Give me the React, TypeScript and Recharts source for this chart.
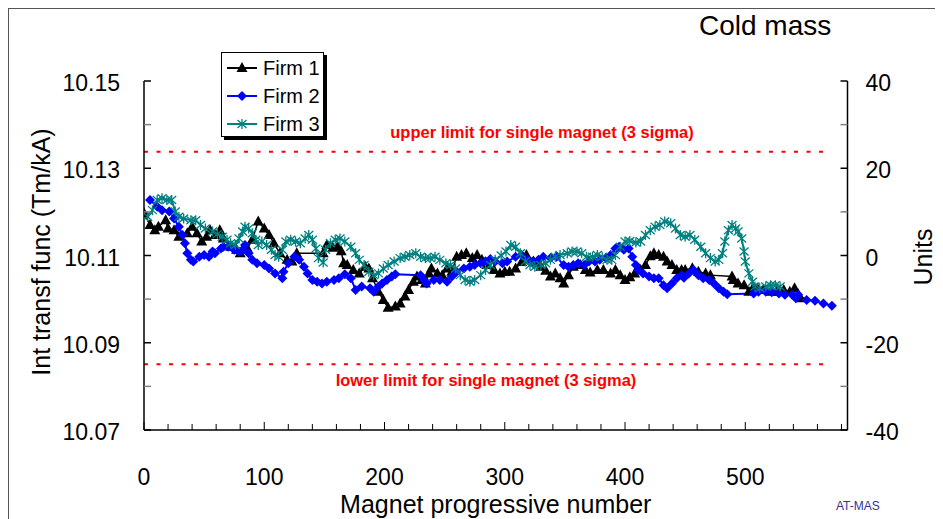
import React from 'react';
import { LineChart, Line, XAxis, YAxis, ReferenceLine, Legend, Label } from 'recharts';

// magnet progressive number and deviation in units (1 unit = 0.001 Tm/kA around 10.11)
const firm1Magnet = [0, 5, 9, 12, 18, 20, 25, 29, 36, 40, 44, 48, 52, 55, 59, 63, 66, 72, 77, 80, 86, 90, 95, 100, 104, 108, 113, 119, 123, 127, 149, 152, 157, 161, 164, 166, 169, 174, 179, 184, 187, 190, 195, 199, 203, 209, 213, 217, 220, 224, 227, 231, 234, 237, 239, 244, 248, 252, 256, 260, 264, 268, 273, 277, 281, 285, 291, 296, 300, 304, 309, 314, 318, 324, 330, 334, 338, 342, 346, 349, 353, 357, 363, 367, 371, 377, 382, 388, 392, 396, 400, 404, 408, 413, 417, 421, 424, 428, 432, 435, 439, 443, 447, 450, 456, 461, 467, 471, 489, 490, 494, 499, 503, 506, 510, 515, 521, 526, 532, 537, 541, 544, 546];
const firm1Units = [9.7, 7.0, 5.8, 6.6, 8.1, 6.2, 5.8, 4.3, 5.1, 6.6, 5.1, 3.2, 4.3, 5.8, 4.7, 5.8, 3.9, 2.0, 1.3, 0.5, 1.6, 3.6, 7.8, 6.2, 4.7, 2.8, 0.5, -1.0, -1.4, 0.5, 0.5, 2.4, 1.8, 2.0, 1.0, -1.8, -2.2, -3.3, -4.1, -2.6, -3.0, -5.2, -8.3, -10.2, -12.0, -11.7, -11.0, -9.4, -7.9, -6.0, -4.8, -5.6, -6.4, -4.1, -3.0, -4.1, -4.5, -3.0, -3.7, -0.3, 0.1, 0.5, -0.6, 0.1, -1.0, -2.2, -3.3, -4.1, -3.7, -3.7, -3.0, -1.5, 0.1, -1.4, -2.6, -3.5, -4.8, -4.1, -5.2, -6.4, -4.5, -2.6, -2.2, -3.3, -3.9, -3.3, -3.3, -4.1, -3.3, -4.5, -5.6, -5.0, -4.1, -3.3, -2.2, -0.2, 0.5, 0.1, -0.3, -1.4, -2.2, -3.3, -3.3, -3.3, -2.9, -3.7, -4.1, -4.5, -4.8, -5.6, -6.4, -6.8, -8.3, -7.6, -7.5, -7.9, -8.3, -8.3, -7.9, -8.3, -7.5, -8.9, -9.8];

const firm2Magnet = [5, 11, 15, 21, 25, 29, 32, 34, 36, 39, 41, 46, 50, 54, 57, 59, 64, 66, 70, 75, 79, 82, 84, 87, 90, 94, 100, 104, 109, 115, 116, 120, 125, 129, 133, 136, 140, 144, 148, 152, 158, 162, 167, 172, 176, 181, 188, 191, 195, 198, 202, 206, 209, 230, 233, 235, 241, 246, 252, 256, 260, 266, 271, 275, 280, 284, 288, 292, 298, 302, 309, 314, 319, 323, 328, 332, 338, 343, 349, 353, 357, 361, 366, 370, 375, 379, 384, 388, 392, 395, 399, 403, 406, 409, 411, 415, 420, 424, 428, 432, 435, 439, 443, 447, 449, 453, 457, 461, 465, 470, 474, 478, 482, 485, 507, 511, 517, 522, 528, 533, 539, 542, 544, 551, 558, 565, 572];
const firm2Units = [12.7, 11.2, 10.4, 10.1, 8.5, 6.6, 4.7, 2.8, 0.5, -1.0, -1.4, -0.3, 0.1, -0.3, 0.9, 0.5, 1.6, 2.0, 2.0, 1.3, 0.9, 1.3, 2.4, 0.5, -1.0, -1.8, -2.2, -3.0, -4.1, -5.2, -3.7, -1.8, -0.3, -1.0, -2.6, -4.1, -5.6, -6.0, -6.4, -6.0, -5.6, -5.2, -4.3, -5.2, -7.9, -7.1, -7.5, -8.3, -7.1, -6.4, -5.6, -4.8, -4.3, -4.5, -5.6, -6.4, -5.6, -5.6, -6.0, -4.8, -3.7, -3.0, -2.6, -2.2, -1.8, -1.3, -0.8, -1.4, -1.8, -1.4, -0.3, 0.1, -1.0, -1.4, -1.0, -0.3, -0.6, -0.3, -2.2, -2.6, -2.2, -1.8, -2.2, -1.4, -1.4, -1.0, -0.6, 0.1, 1.6, 2.0, 1.3, 1.6, -0.3, -2.2, -3.3, -4.1, -4.8, -5.2, -5.2, -6.8, -7.5, -6.4, -5.2, -4.5, -5.1, -4.1, -3.3, -4.5, -5.2, -5.6, -6.4, -7.5, -8.3, -8.9, -8.7, -8.3, -8.3, -8.4, -8.7, -9.0, -9.0, -9.8, -9.0, -10.2, -10.4, -11.0, -11.5];

const firm3Magnet = [3, 7, 11, 15, 19, 23, 26, 29, 33, 39, 43, 47, 51, 57, 61, 65, 69, 72, 76, 79, 82, 84, 87, 90, 93, 95, 98, 102, 106, 109, 112, 115, 118, 122, 126, 130, 134, 137, 140, 143, 145, 149, 151, 155, 159, 163, 167, 172, 176, 179, 183, 187, 191, 195, 199, 203, 208, 213, 217, 221, 226, 230, 234, 238, 242, 246, 251, 255, 259, 263, 267, 271, 275, 280, 284, 288, 292, 297, 301, 305, 309, 313, 317, 321, 325, 330, 334, 338, 342, 346, 352, 356, 360, 364, 368, 373, 377, 381, 385, 389, 392, 396, 400, 404, 409, 413, 417, 421, 425, 429, 433, 438, 442, 446, 450, 454, 458, 463, 467, 471, 475, 478, 481, 483, 486, 489, 492, 494, 497, 499, 500, 503, 506, 508, 512, 517, 521, 525, 529];
const firm3Units = [8.9, 10.4, 12.7, 13.1, 12.7, 12.7, 10.1, 8.9, 8.5, 8.1, 8.1, 7.0, 6.2, 5.5, 4.9, 4.3, 3.6, 2.8, 2.4, 3.9, 5.5, 6.6, 6.2, 5.1, 3.6, 2.4, 3.2, 2.4, 1.3, 0.1, -0.3, 1.3, 3.2, 3.6, 3.2, 2.8, 3.9, 4.7, 3.6, 1.6, -0.6, -1.6, 1.3, 2.8, 3.6, 3.9, 3.2, 2.0, 0.5, -1.0, -2.2, -3.7, -4.5, -4.1, -3.0, -2.2, -1.4, -0.6, -0.3, 0.1, 0.5, -0.3, -0.6, -0.6, -0.3, -1.0, -1.8, -2.2, -3.0, -4.5, -5.6, -6.0, -5.6, -4.5, -3.3, -2.2, -1.0, 0.0, 0.9, 2.4, 2.0, 0.5, -1.4, -2.2, -2.6, -2.2, -1.8, -1.0, -0.3, 0.1, 0.5, 0.9, 0.9, 0.5, -0.3, -0.3, 0.1, -0.3, -1.0, -1.0, 0.1, 2.0, 3.2, 3.3, 3.0, 3.2, 4.7, 5.8, 6.6, 7.0, 7.8, 7.4, 6.2, 4.7, 4.3, 4.7, 3.6, 2.0, 0.5, -0.6, -1.4, -1.0, 0.5, 3.2, 5.8, 7.0, 6.2, 5.5, 3.9, 0.9, -1.4, -4.1, -6.0, -7.1, -7.5, -7.1, -6.8, -6.8, -7.1];

const seriesNames = ['Firm 1', 'Firm 2', 'Firm 3'];
const seriesColors = ['#000000', '#0000ff', '#008080'];

// limits for a single magnet (3 sigma), Tm/kA
const upperLimit = 10.1338;
const lowerLimit = 10.0851;
const limitEnd = 571;

const xTicks = [0, 20, 40, 60, 80, 100, 120, 140, 160, 180, 200, 220, 240, 260, 280, 300, 320, 340, 360, 380, 400, 420, 440, 460, 480, 500, 520, 540, 560, 580];
const leftTicks = [10.07, 10.08, 10.09, 10.1, 10.11, 10.12, 10.13, 10.14, 10.15];
const rightTicks = [-40, -30, -20, -10, 0, 10, 20, 30, 40];

const toPoints = (xs: number[], ys: number[]) => xs.map((x, i) => ({ magnet: x, units: ys[i] }));
const firm1 = toPoints(firm1Magnet, firm1Units);
const firm2 = toPoints(firm2Magnet, firm2Units);
const firm3 = toPoints(firm3Magnet, firm3Units);

const FONT = '"Liberation Sans", Arial, sans-serif';

const triangle = (cx: number, cy: number, color: string, k?: any) => (
  <path key={k} d={`M${cx},${cy - 6}L${cx + 5.5},${cy + 4}L${cx - 5.5},${cy + 4}Z`} fill={color} />
);
const diamond = (cx: number, cy: number, color: string, k?: any) => (
  <path key={k} d={`M${cx},${cy - 5}L${cx + 5},${cy}L${cx},${cy + 5}L${cx - 5},${cy}Z`} fill={color} />
);
const star = (cx: number, cy: number, color: string, k?: any) => (
  <path
    key={k}
    d={`M${cx},${cy - 5}V${cy + 5}M${cx - 4.5},${cy - 4}L${cx + 4.5},${cy + 4}M${cx + 4.5},${cy - 4}L${cx - 4.5},${cy + 4}`}
    stroke={color}
    strokeWidth={1.3}
    fill="none"
  />
);
const markers = [triangle, diamond, star];

const dotFor = (i: number) => (p: any) => {
  if (p.cx == null || p.cy == null) return <g key={`e${i}-${p.index}`} />;
  return markers[i](p.cx, p.cy, seriesColors[i], `m${i}-${p.index}`);
};

const leftTick = (p: any) => {
  const v = p.payload.value;
  const major = Math.round(v * 1000) % 20 === 10;
  return (
    <g>
      <line x1={p.x} x2={p.x + 7} y1={p.y} y2={p.y} stroke={major ? '#000' : '#808080'} strokeWidth={1.5} />
      {major && (
        <text x={p.x - 24} y={p.y + 10} textAnchor="end" fontSize={23} fill="#000" fontFamily={FONT}>
          {v.toFixed(2)}
        </text>
      )}
    </g>
  );
};

const rightTick = (p: any) => {
  const v = p.payload.value;
  const major = v % 20 === 0;
  return (
    <g>
      <line x1={p.x - 7} x2={p.x} y1={p.y} y2={p.y} stroke={major ? '#000' : '#808080'} strokeWidth={1.5} />
      {major && (
        <text x={p.x + 18} y={p.y + 10} textAnchor="start" fontSize={23} fill="#000" fontFamily={FONT}>
          {v}
        </text>
      )}
    </g>
  );
};

const bottomTick = (p: any) => {
  const v = p.payload.value;
  const major = v % 100 === 0;
  return (
    <g>
      <line x1={p.x} x2={p.x} y1={p.y} y2={p.y - (major ? 8 : 6)} stroke="#000" strokeWidth={1} />
      {major && (
        <text x={p.x} y={p.y + 55} textAnchor="middle" fontSize={23} fill="#000" fontFamily={FONT}>
          {v}
        </text>
      )}
    </g>
  );
};

const renderLegend = () => (
  <div
    style={{
      width: 103,
      height: 85,
      boxSizing: 'border-box',
      border: '1px solid #000',
      background: '#fff',
      boxShadow: '3px 3px 0 #000',
      paddingTop: 1,
      fontFamily: FONT,
    }}
  >
    {seriesNames.map((name, i) => (
      <div key={name} style={{ display: 'flex', alignItems: 'center', height: 28 }}>
        <svg width={38} height={28} style={{ flex: 'none' }}>
          <line x1={5} x2={35} y1={14} y2={14} stroke={seriesColors[i]} strokeWidth={2} />
          {markers[i](20, 14, seriesColors[i])}
        </svg>
        <span style={{ fontSize: 20, color: '#000', marginLeft: 3 }}>{name}</span>
      </div>
    ))}
  </div>
);

const limitLabel = (text: string, dx: number, dy: number) => (p: any) => {
  const vb = p.viewBox || {};
  return (
    <text x={vb.x + dx} y={vb.y + dy} textAnchor="middle" fontSize={16.5} fontWeight="bold" fill="#ff0000" fontFamily={FONT}>
      {text}
    </text>
  );
};

export default function App() {
  return (
    <div
      style={{
        position: 'relative',
        width: 934,
        height: 510,
        borderTop: '1px solid #555',
        borderLeft: '1px solid #555',
        background: '#fff',
        fontFamily: FONT,
      }}
    >
      <LineChart width={934} height={510} margin={{ top: 72, right: 35.5, bottom: 59, left: 75 }}>
        <XAxis
          xAxisId="x"
          dataKey="magnet"
          type="number"
          domain={[0, 585]}
          ticks={xTicks}
          interval={0}
          allowDataOverflow
          height={30}
          tickSize={0}
          tickMargin={0}
          tick={bottomTick}
          tickLine={false}
          axisLine={{ stroke: '#000', strokeWidth: 1.5 }}
        >
          <Label
            content={(p: any) => (
              <text
                x={p.viewBox.x + p.viewBox.width / 2}
                y={p.viewBox.y + 83}
                textAnchor="middle"
                fontSize={25}
                fill="#000"
                fontFamily={FONT}
              >
                Magnet progressive number
              </text>
            )}
          />
        </XAxis>
        <YAxis
          yAxisId="left"
          orientation="left"
          type="number"
          domain={[10.07, 10.15]}
          ticks={leftTicks}
          interval={0}
          allowDataOverflow
          width={60}
          tickSize={0}
          tickMargin={0}
          tick={leftTick}
          tickLine={false}
          axisLine={{ stroke: '#000', strokeWidth: 1.5 }}
        >
          <Label
            content={(p: any) => {
              const cx = p.viewBox.x - 43;
              const cy = p.viewBox.y + 171;
              return (
                <text
                  x={cx}
                  y={cy}
                  dy="0.35em"
                  transform={`rotate(-90, ${cx}, ${cy})`}
                  textAnchor="middle"
                  fontSize={25}
                  fill="#000"
                  fontFamily={FONT}
                >
                  Int transf func (Tm/kA)
                </text>
              );
            }}
          />
        </YAxis>
        <YAxis
          yAxisId="right"
          orientation="right"
          type="number"
          domain={[-40, 40]}
          ticks={rightTicks}
          interval={0}
          allowDataOverflow
          width={60}
          tickSize={0}
          tickMargin={0}
          tick={rightTick}
          tickLine={false}
          axisLine={{ stroke: '#000', strokeWidth: 1.5 }}
        >
          <Label
            content={(p: any) => {
              const cx = p.viewBox.x + 76;
              const cy = p.viewBox.y + 176;
              return (
                <text
                  x={cx}
                  y={cy}
                  dy="0.35em"
                  transform={`rotate(-90, ${cx}, ${cy})`}
                  textAnchor="middle"
                  fontSize={25}
                  fill="#000"
                  fontFamily={FONT}
                >
                  Units
                </text>
              );
            }}
          />
        </YAxis>

        <ReferenceLine
          xAxisId="x"
          yAxisId="left"
          segment={[{ x: 0, y: upperLimit }, { x: limitEnd, y: upperLimit }]}
          stroke="#ff0000"
          strokeWidth={2}
          strokeDasharray="4 8.5"
          label={limitLabel('upper limit for single magnet (3 sigma)', 398, -14)}
        />
        <ReferenceLine
          xAxisId="x"
          yAxisId="left"
          segment={[{ x: 0, y: lowerLimit }, { x: limitEnd, y: lowerLimit }]}
          stroke="#ff0000"
          strokeWidth={2}
          strokeDasharray="4 8.5"
          label={limitLabel('lower limit for single magnet (3 sigma)', 342, 22)}
        />

        <Line
          xAxisId="x"
          yAxisId="right"
          data={firm1}
          dataKey="units"
          name={seriesNames[0]}
          stroke={seriesColors[0]}
          strokeWidth={1.5}
          dot={dotFor(0)}
          activeDot={false}
          isAnimationActive={false}
        />
        <Line
          xAxisId="x"
          yAxisId="right"
          data={firm2}
          dataKey="units"
          name={seriesNames[1]}
          stroke={seriesColors[1]}
          strokeWidth={2}
          dot={dotFor(1)}
          activeDot={false}
          isAnimationActive={false}
        />
        <Line
          xAxisId="x"
          yAxisId="right"
          data={firm3}
          dataKey="units"
          name={seriesNames[2]}
          stroke={seriesColors[2]}
          strokeWidth={2}
          dot={dotFor(2)}
          activeDot={false}
          isAnimationActive={false}
        />

        <Legend
          layout="vertical"
          align="center"
          verticalAlign="middle"
          content={renderLegend}
          wrapperStyle={{ left: 212, top: 43, width: 106, height: 88 }}
        />
      </LineChart>

      <div style={{ position: 'absolute', left: 690, top: 3, fontSize: 28, lineHeight: '28px', color: '#000' }}>Cold mass</div>
      <div style={{ position: 'absolute', left: 827, top: 491, fontSize: 12, lineHeight: '12px', color: '#333399' }}>AT-MAS</div>
    </div>
  );
}
